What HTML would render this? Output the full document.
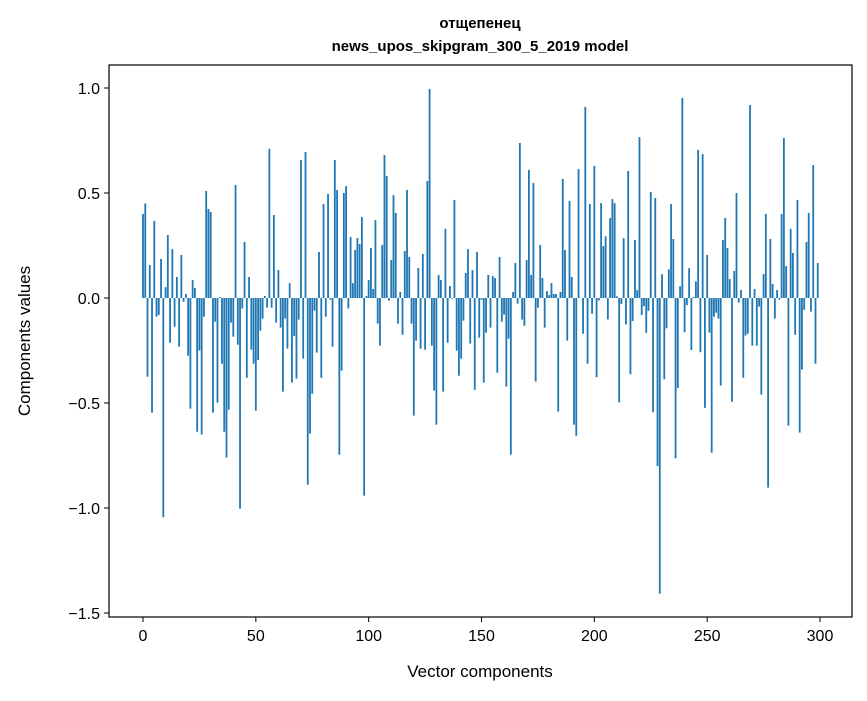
<!DOCTYPE html>
<html><head><meta charset="utf-8"><style>
body{margin:0;background:#fff;}
svg text{font-family:"Liberation Sans","DejaVu Sans",sans-serif;}
</style></head><body>
<svg id="chart" width="867" height="696" xmlns="http://www.w3.org/2000/svg">
<rect width="867" height="696" fill="#fff"/>
<text x="480" y="28" text-anchor="middle" font-size="15" font-weight="bold">отщепенец</text>
<text x="480" y="51" text-anchor="middle" font-size="15" font-weight="bold">news_upos_skipgram_300_5_2019 model</text>
<g id="bars"></g>
<rect x="109" y="65" width="743" height="552" fill="none" stroke="#000" stroke-width="1.2"/>
<g id="xt"></g>
<g id="yt"></g>
<text x="480" y="677" text-anchor="middle" font-size="17">Vector components</text>
<text transform="translate(30,341) rotate(-90)" text-anchor="middle" font-size="17">Components values</text>
</svg>
<script>
const values = [0.40,0.45,-0.375,0.157,-0.546,0.367,-0.089,-0.081,0.186,-1.044,
0.052,0.30,-0.213,0.233,-0.137,0.10,-0.232,0.205,-0.018,0.019,
-0.275,-0.527,0.086,0.048,-0.637,-0.25,-0.65,-0.089,0.51,0.424,
0.41,-0.546,-0.113,-0.498,0.005,-0.313,-0.637,-0.76,-0.532,-0.117,
-0.184,0.538,-0.222,-1.003,-0.05,0.267,-0.38,0.10,-0.246,-0.313,
-0.537,-0.295,-0.156,-0.098,0.01,-0.046,0.71,-0.046,0.395,-0.117,
0.133,-0.141,-0.446,-0.098,-0.241,0.071,-0.403,-0.181,-0.384,-0.103,
0.657,-0.289,0.695,-0.889,-0.646,-0.456,-0.06,-0.26,0.219,-0.38,
0.448,-0.089,0.495,-0.008,-0.232,0.657,0.514,-0.746,-0.346,0.50,
0.533,-0.05,0.29,0.071,0.229,0.286,0.257,0.386,-0.941,0.01,
0.086,0.238,0.043,0.371,-0.122,-0.227,0.252,0.681,0.581,-0.013,
0.181,0.49,0.405,-0.122,0.029,-0.175,0.224,0.514,0.195,-0.122,
-0.56,-0.203,0.143,-0.241,0.21,-0.246,0.557,0.995,-0.227,-0.441,
-0.603,0.11,0.086,-0.446,0.329,-0.213,0.057,-0.003,0.467,-0.251,
-0.37,-0.289,-0.108,0.119,0.233,-0.217,0.133,-0.437,0.219,-0.189,
-0.008,-0.403,-0.165,0.11,-0.141,0.105,0.095,-0.356,0.195,-0.113,
-0.079,-0.422,-0.194,-0.746,0.029,0.167,-0.027,0.738,-0.103,-0.132,
0.181,0.61,0.11,0.548,-0.398,-0.046,0.252,0.095,-0.141,0.033,
0.014,0.071,0.019,0.019,-0.541,0.029,0.567,0.229,-0.203,0.462,
0.10,-0.603,-0.656,0.614,0.0,-0.17,0.91,-0.313,0.448,-0.075,
0.629,-0.377,-0.011,0.452,0.247,0.294,-0.102,0.381,0.471,0.452,
0.008,-0.497,-0.029,0.285,-0.126,0.605,-0.363,-0.11,0.276,0.037,
0.766,-0.081,-0.039,-0.166,-0.061,0.505,-0.544,0.476,-0.80,-1.408,
0.113,-0.387,-0.144,0.137,0.447,0.281,-0.763,-0.429,0.056,0.953,
-0.163,-0.034,0.142,-0.248,0.005,0.079,0.705,-0.258,0.685,-0.523,
0.205,-0.165,-0.737,-0.089,-0.07,-0.098,-0.417,0.276,0.381,0.238,
0.09,-0.494,0.129,0.50,-0.022,0.038,-0.38,-0.179,-0.17,0.919,
-0.227,0.043,-0.227,-0.041,-0.46,0.114,0.40,-0.903,0.281,0.067,
-0.098,0.038,-0.008,0.40,0.762,0.152,-0.608,0.329,0.214,-0.175,
0.467,-0.641,-0.341,-0.056,0.267,0.405,-0.065,0.633,-0.313,0.167];
const xTicks = [0,50,100,150,200,250,300];
const yTicks = [1.0,0.5,0.0,-0.5,-1.0,-1.5];
const yTickLabels = ["1.0","0.5","0.0","\u22120.5","\u22121.0","\u22121.5"];
const NS="http://www.w3.org/2000/svg";
const X = v => 143 + v*(677/300);
const Y = v => 298 - v*210;
const bars=document.getElementById('bars');
values.forEach((v,i)=>{
  const r=document.createElementNS(NS,'rect');
  const x0=X(i-0.4), x1=X(i+0.4);
  r.setAttribute('x',x0);r.setAttribute('width',x1-x0);
  r.setAttribute('y',Math.min(Y(v),Y(0)));r.setAttribute('height',Math.abs(Y(v)-Y(0)));
  r.setAttribute('fill','#1f77b4');
  
  
  bars.appendChild(r);
});
const xt=document.getElementById('xt');
xTicks.forEach(t=>{
  const l=document.createElementNS(NS,'line');
  l.setAttribute('x1',X(t));l.setAttribute('x2',X(t));l.setAttribute('y1',617);l.setAttribute('y2',622);l.setAttribute('stroke','#000');
  
  
  xt.appendChild(l);
  const tx=document.createElementNS(NS,'text');
  tx.setAttribute('x',X(t));tx.setAttribute('y',641);tx.setAttribute('text-anchor','middle');tx.setAttribute('font-size','16');
  tx.textContent=t;
  
  
  xt.appendChild(tx);
});
const yt=document.getElementById('yt');
yTicks.forEach((t,i)=>{
  const l=document.createElementNS(NS,'line');
  l.setAttribute('x1',104);l.setAttribute('x2',109);l.setAttribute('y1',Y(t));l.setAttribute('y2',Y(t));l.setAttribute('stroke','#000');
  
  
  yt.appendChild(l);
  const tx=document.createElementNS(NS,'text');
  tx.setAttribute('x',100);tx.setAttribute('y',Y(t)+6);tx.setAttribute('text-anchor','end');tx.setAttribute('font-size','16');
  tx.textContent=yTickLabels[i];
  
  
  yt.appendChild(tx);
});
</script>
</body></html>
